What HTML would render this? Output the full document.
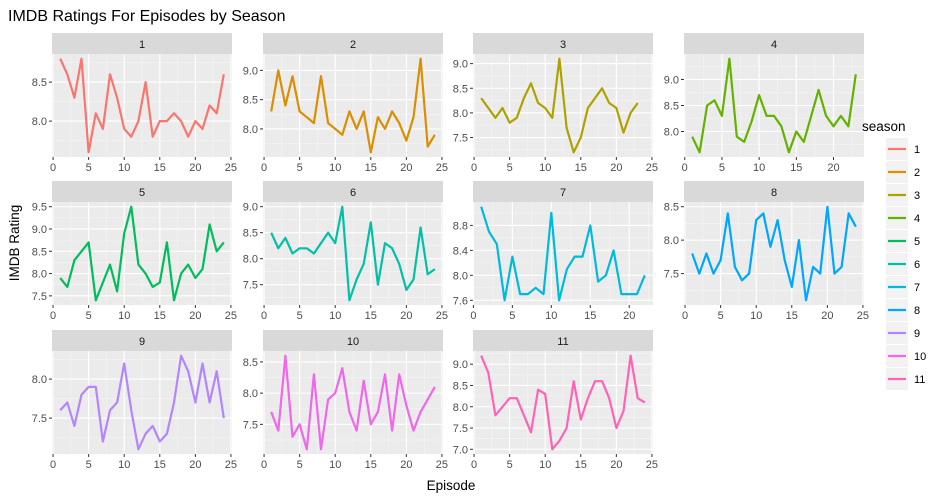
<!DOCTYPE html>
<html><head><meta charset="utf-8"><style>
body{margin:0;background:#fff}
svg text{font-family:"Liberation Sans",sans-serif}
</style></head><body>
<svg id="chart" width="950" height="499" xmlns="http://www.w3.org/2000/svg">
<text x="8" y="21" font-size="16" fill="#000">IMDB Ratings For Episodes by Season</text>
<text transform="translate(19,243) rotate(-90)" text-anchor="middle" font-size="13.5" fill="#000">IMDB Rating</text>
<text x="451" y="490" text-anchor="middle" font-size="13.5" fill="#000">Episode</text>
<g id="panels"></g>
<g id="legend"></g>
</svg>
<script>
const seasons = ["1","2","3","4","5","6","7","8","9","10","11"];
const colors = ["#F8766D","#DB8E00","#AEA200","#64B200","#00BD5C","#00C1A7","#00BADE","#00A6FF","#B385FF","#EF67EB","#FF63B6"];
const s1 = [8.8,8.6,8.3,8.8,7.6,8.1,7.9,8.6,8.3,7.9,7.8,8.0,8.5,7.8,8.0,8.0,8.1,8.0,7.8,8.0,7.9,8.2,8.1,8.6];
const s2 = [8.3,9.0,8.4,8.9,8.3,8.2,8.1,8.9,8.1,8.0,7.9,8.3,8.0,8.3,7.6,8.2,8.0,8.3,8.1,7.8,8.2,9.2,7.7,7.9];
const s3 = [8.3,8.1,7.9,8.1,7.8,7.9,8.3,8.6,8.2,8.1,7.9,9.1,7.7,7.2,7.5,8.1,8.3,8.5,8.2,8.1,7.6,8.0,8.2];
const s4 = [7.9,7.6,8.5,8.6,8.3,9.4,7.9,7.8,8.2,8.7,8.3,8.3,8.1,7.6,8.0,7.8,8.3,8.8,8.3,8.1,8.3,8.1,9.1];
const s5 = [7.9,7.7,8.3,8.5,8.7,7.4,7.8,8.2,7.6,8.9,9.5,8.2,8.0,7.7,7.8,8.7,7.4,8.0,8.2,7.9,8.1,9.1,8.5,8.7];
const s6 = [8.5,8.2,8.4,8.1,8.2,8.2,8.1,8.3,8.5,8.3,9.0,7.2,7.6,7.9,8.7,7.5,8.3,8.2,7.9,7.4,7.6,8.6,7.7,7.8];
const s7 = [9.1,8.7,8.5,7.6,8.3,7.7,7.7,7.8,7.7,9.0,7.6,8.1,8.3,8.3,8.8,7.9,8.0,8.4,7.7,7.7,7.7,8.0];
const s8 = [7.8,7.5,7.8,7.5,7.7,8.4,7.6,7.4,7.5,8.3,8.4,7.9,8.3,7.7,7.3,8.0,7.1,7.6,7.5,8.5,7.5,7.6,8.4,8.2];
const s9 = [7.6,7.7,7.4,7.8,7.9,7.9,7.2,7.6,7.7,8.2,7.6,7.1,7.3,7.4,7.2,7.3,7.7,8.3,8.1,7.7,8.2,7.7,8.1,7.5];
const s10 = [7.7,7.4,8.6,7.3,7.5,7.1,8.3,7.1,7.9,8.0,8.4,7.7,7.4,8.2,7.5,7.7,8.3,7.4,8.3,7.8,7.4,7.7,7.9,8.1];
const s11 = [9.2,8.8,7.8,8.0,8.2,8.2,7.8,7.4,8.4,8.3,7.0,7.2,7.5,8.6,7.7,8.2,8.6,8.6,8.2,7.5,7.9,9.2,8.2,8.1];
const ratings = [s1,s2,s3,s4,s5,s6,s7,s8,s9,s10,s11];
const lastEpisode = [24,24,24,23,24,24,22,24,24,24,24];
const yTicks = [[8.0,8.5],[8.0,8.5,9.0],[7.5,8.0,8.5,9.0],[8.0,8.5,9.0],[7.5,8.0,8.5,9.0,9.5],[7.5,8.0,8.5,9.0],[7.6,8.0,8.4,8.8],[7.5,8.0,8.5],[7.5,8.0],[7.5,8.0,8.5],[7.0,7.5,8.0,8.5,9.0]];
const yTickLabels = [["8.0","8.5"],["8.0","8.5","9.0"],["7.5","8.0","8.5","9.0"],["8.0","8.5","9.0"],["7.5","8.0","8.5","9.0","9.5"],["7.5","8.0","8.5","9.0"],["7.6","8.0","8.4","8.8"],["7.5","8.0","8.5"],["7.5","8.0"],["7.5","8.0","8.5"],["7.0","7.5","8.0","8.5","9.0"]];
const xTicks = [0,5,10,15,20,25];

const NS="http://www.w3.org/2000/svg";
const colL=[52,263,473,684], W=180, stripTop=[33,181,330], SH=21, PH=103;
function mk(tag,attrs,parent){const e=document.createElementNS(NS,tag);for(const k in attrs)e.setAttribute(k,attrs[k]);parent.appendChild(e);return e;}
const panels=document.getElementById('panels');
ratings.forEach((vals,i)=>{
  const c=i%4, r=Math.floor(i/4);
  const x0=colL[c], st=stripTop[r], y0=st+SH, y1=y0+PH;
  const g=mk('g',{},panels);
  
  
  const strip=mk('rect',{x:x0,y:st,width:W,height:SH,fill:'#D9D9D9'},g);
  
  
  const st_t=mk('text',{x:x0+W/2,y:st+15,'text-anchor':'middle','font-size':'11','fill':'#1a1a1a'},g);
  st_t.textContent=seasons[i];
  
  
  const bg=mk('rect',{x:x0,y:y0,width:W,height:PH,fill:'#EBEBEB'},g);
  
  
  const n=lastEpisode[i];
  const xmin=1-0.05*(n-1), xmax=n+0.05*(n-1);
  const X=v=>x0+(v-xmin)/(xmax-xmin)*W;
  const mn=Math.min(...vals), mx=Math.max(...vals), pad=0.05*(mx-mn);
  const ymin=mn-pad, ymax=mx+pad;
  const Y=v=>y1-(v-ymin)/(ymax-ymin)*PH;
  const tk=yTicks[i], step=tk.length>1?tk[1]-tk[0]:0.5;
  for(let m=tk[0]-step*1.5;m<=ymax;m+=step){ if(m>=ymin) mk('line',{x1:x0,x2:x0+W,y1:Y(m),y2:Y(m),stroke:'#F5F5F5','stroke-width':0.6},g); }
  for(let m=2.5;m<=xmax;m+=5){ if(m>=xmin) mk('line',{x1:X(m),x2:X(m),y1:y0,y2:y1,stroke:'#F5F5F5','stroke-width':0.6},g); }
  tk.forEach((t,j)=>{
    const y=Y(t);
    mk('line',{x1:x0,x2:x0+W,y1:y,y2:y,stroke:'#fff','stroke-width':1.1},g);
    mk('line',{x1:x0-3,x2:x0,y1:y,y2:y,stroke:'#333','stroke-width':1},g);
    const lt=mk('text',{x:x0-5,y:y+4,'text-anchor':'end','font-size':'11',fill:'#4D4D4D'},g);
    lt.textContent=yTickLabels[i][j];
    
    
  });
  xTicks.forEach(t=>{
    if(t<xmin||t>xmax) return;
    const x=X(t);
    mk('line',{x1:x,x2:x,y1:y0,y2:y1,stroke:'#fff','stroke-width':1.1},g);
    mk('line',{x1:x,x2:x,y1:y1,y2:y1+3,stroke:'#333','stroke-width':1},g);
    const lt=mk('text',{x:x,y:y1+14,'text-anchor':'middle','font-size':'11',fill:'#4D4D4D'},g);
    lt.textContent=String(t);
    
    
  });
  const pts=vals.map((v,k)=>X(k+1).toFixed(1)+','+Y(v).toFixed(1)).join(' ');
  const line=mk('polyline',{points:pts,fill:'none',stroke:colors[i],'stroke-width':2.2,'stroke-linejoin':'round'},g);
  
  
});
const lg=document.getElementById('legend');
const lt=mk('text',{x:862,y:131,'font-size':'13.5',fill:'#000'},lg);
lt.textContent='season';


seasons.forEach((s,i)=>{
  const y=138+i*23;
  const e=mk('g',{},lg);
  
  
  mk('rect',{x:886,y:y,width:22,height:22,fill:'#F2F2F2'},e);
  mk('line',{x1:888,x2:906,y1:y+11,y2:y+11,stroke:colors[i],'stroke-width':2.2},e);
  const t=mk('text',{x:914,y:y+15,'font-size':'11',fill:'#000'},e);
  t.textContent=s;
});
</script>
</body></html>
